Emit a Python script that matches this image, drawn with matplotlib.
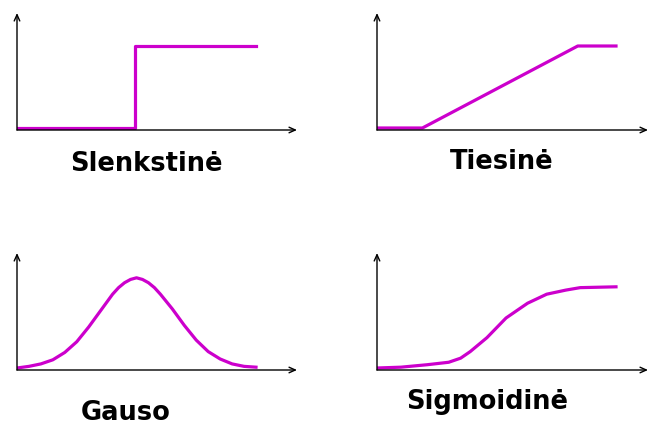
import matplotlib.pyplot as plt

# Slenkstinė (step)
step_x = [0.0, 0.494, 0.494, 1.0]
step_y = [0.0, 0.0, 1.0, 1.0]

# Tiesinė (linear with saturation)
lin_x = [0.0, 0.19, 0.84, 1.0]
lin_y = [0.0, 0.0, 1.0, 1.0]

# Gauso
gauss_x = [0.0, 0.05, 0.1, 0.15, 0.2, 0.25, 0.3, 0.35, 0.375, 0.4, 0.425, 0.45, 0.475, 0.5,
           0.525, 0.55, 0.575, 0.6, 0.625, 0.65, 0.7, 0.75, 0.8, 0.85, 0.9, 0.95, 1.0]
gauss_y = [0.0, 0.02, 0.05, 0.1, 0.19, 0.32, 0.5, 0.7, 0.8, 0.9, 0.98, 1.04, 1.08, 1.1,
           1.08, 1.04, 0.98, 0.9, 0.81, 0.72, 0.52, 0.34, 0.2, 0.11, 0.05, 0.02, 0.01]

# Sigmoidinė
sig_x = [0.0, 0.1, 0.21, 0.3, 0.35, 0.39, 0.46, 0.54, 0.63, 0.71, 0.79, 0.85, 1.0]
sig_y = [0.0, 0.01, 0.04, 0.07, 0.12, 0.2, 0.37, 0.61, 0.79, 0.9, 0.95, 0.98, 0.99]

labels = ['Slenkstinė', 'Tiesinė', 'Gauso', 'Sigmoidinė']

W, H = 650, 425
fig = plt.figure(figsize=(6.5, 4.25), dpi=100)
fig.patch.set_facecolor('white')

# (left px, axis y px, axis width px, series, label x px, label baseline px)
panels = [
    (17, 130, 280, step_x, step_y, 146, 171),
    (377, 130, 271, lin_x, lin_y, 502, 169),
    (17, 370, 280, gauss_x, gauss_y, 126, 420),
    (377, 370, 271, sig_x, sig_y, 487, 409),
]
curve_w = 239   # px for x = 0..1
unit_h = 82     # px for y = 1
axis_h = 117

for (left, base, aw, xs, ys, lx, ly), lab in zip(panels, labels):
    ax = fig.add_axes([left / W, (H - base) / H, aw / W, axis_h / H])
    ax.set_xlim(0, aw / curve_w)
    ax.set_ylim(-2 / unit_h, (axis_h - 2) / unit_h)
    ax.axis('off')
    ax.plot(xs, ys, color='#cc00cc', lw=2.3, solid_joinstyle='round', zorder=3)
    arr = dict(arrowstyle='->,head_length=0.45,head_width=0.2', color='black', lw=1.0,
               shrinkA=0, shrinkB=0)
    ax.annotate('', xy=(0, 1), xytext=(0, 0), xycoords='axes fraction', arrowprops=arr)
    ax.annotate('', xy=(1, 0), xytext=(0, 0), xycoords='axes fraction', arrowprops=arr)
    fig.text(lx / W, 1 - ly / H, lab, ha='center', va='baseline',
             fontsize=18.5, family='DejaVu Sans', weight='bold', color='black')

fig.savefig('out.png', dpi=100, facecolor='white')
